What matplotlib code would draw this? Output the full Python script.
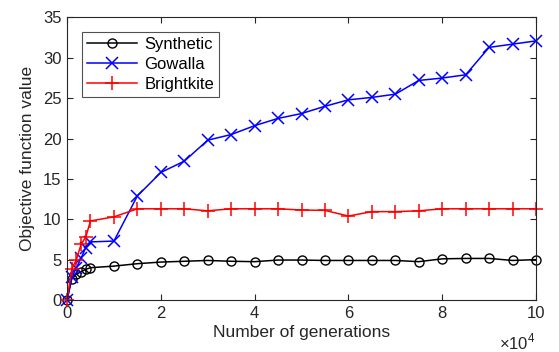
import matplotlib
matplotlib.use("Agg")
import matplotlib.pyplot as plt
from matplotlib.ticker import FuncFormatter

plt.rcParams['font.family'] = ['Liberation Sans', 'DejaVu Sans']
plt.rcParams['mathtext.fontset'] = 'custom'
plt.rcParams['mathtext.rm'] = 'Liberation Sans'

generations = [0, 1000, 2000, 3000, 4000, 5000, 10000, 15000, 20000, 25000, 30000,
               35000, 40000, 45000, 50000, 55000, 60000, 65000, 70000, 75000,
               80000, 85000, 90000, 95000, 100000]

synthetic = [0, 2.6, 3.2, 3.5, 3.8, 4.0, 4.2, 4.5, 4.7, 4.8, 4.9,
             4.8, 4.75, 4.95, 4.95, 4.9, 4.9, 4.9, 4.9, 4.75,
             5.1, 5.15, 5.15, 4.9, 5.0]

gowalla = [0, 2.8, 4.0, 5.2, 6.5, 7.2, 7.3, 12.9, 15.8, 17.2, 19.8,
           20.5, 21.6, 22.5, 23.1, 24.0, 24.8, 25.1, 25.5, 27.2,
           27.5, 27.9, 31.3, 31.7, 32.1]

brightkite = [0, 3.8, 5.0, 6.9, 7.8, 9.8, 10.3, 11.3, 11.3, 11.3, 11.05,
              11.3, 11.3, 11.3, 11.15, 11.1, 10.4, 10.95, 10.95, 11.05,
              11.3, 11.3, 11.3, 11.3, 11.3]

series_names = ['Synthetic', 'Gowalla', 'Brightkite']

fig = plt.figure(figsize=(5.59, 3.52), dpi=100)
ax = fig.add_axes([0.1199, 0.1477, 0.839, 0.8026])

axis_color = '#262626'
ax.plot(generations, synthetic, color='black', lw=1.1, marker='o', ms=6.5,
        mfc='none', mew=1.0, label=series_names[0], clip_on=False)
ax.plot(generations, gowalla, color='#0000ff', lw=1.1, marker='x', ms=8,
        mew=1.1, label=series_names[1], clip_on=False)
ax.plot(generations, brightkite, color='#ff0000', lw=1.1, marker='+', ms=10,
        mew=1.1, label=series_names[2], clip_on=False)

ax.set_xlim(0, 100000)
ax.set_ylim(0, 35)
ax.set_xticks(range(0, 100001, 20000))
ax.set_yticks(range(0, 36, 5))
ax.xaxis.set_major_formatter(FuncFormatter(lambda v, p: f"{v / 1e4:g}"))

for s in ax.spines.values():
    s.set_color(axis_color)
    s.set_linewidth(0.8)
ax.tick_params(direction='in', top=True, right=True, length=4.5, width=0.8,
               colors=axis_color, labelsize=12, pad=4)
ax.set_xlabel('Number of generations', fontsize=12.5, color=axis_color, labelpad=3)
ax.set_ylabel('Objective function value', fontsize=12.5, color=axis_color, labelpad=6)
fig.text(536 / 559, 0.0, r'$\times\mathregular{10}^{\mathregular{4}}$', ha='right',
         va='bottom', fontsize=12, color=axis_color)

leg = ax.legend(loc='upper left', bbox_to_anchor=(0.032, 0.95), fontsize=12,
                frameon=True, fancybox=False, edgecolor=axis_color,
                handlelength=3.0, handletextpad=0.45, borderpad=0.3,
                labelspacing=0.3, borderaxespad=0)
leg.get_frame().set_linewidth(0.8)

fig.savefig('out.png', dpi=100)
